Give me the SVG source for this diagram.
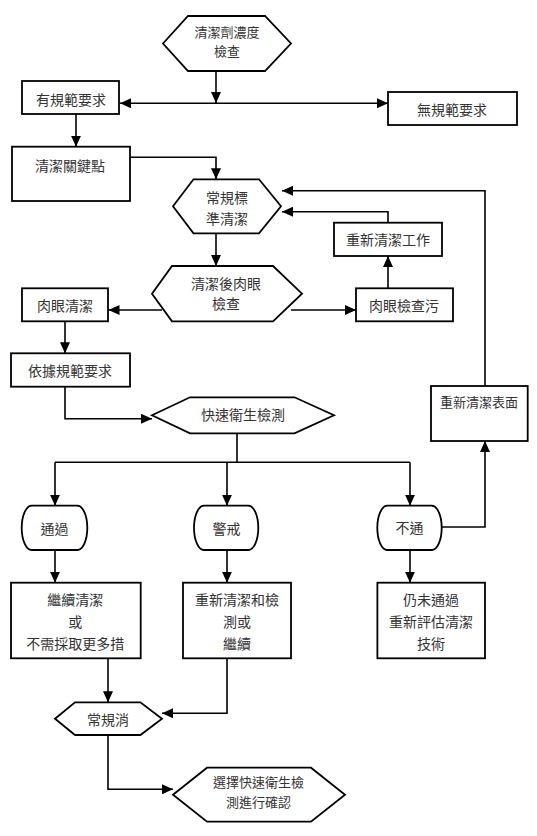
<svg xmlns="http://www.w3.org/2000/svg" width="537" height="836" viewBox="0 0 537 836">
<style>
.s{fill:#fff;stroke:#000;stroke-width:1.8}
.c{fill:none;stroke:#000;stroke-width:1.6}
text{font-family:"Noto Sans CJK TC","Noto Sans CJK SC",sans-serif;font-size:14px;fill:#333;text-anchor:middle;dominant-baseline:central}
.sm{font-size:13px}
</style>
<defs>
<marker id="a" markerUnits="userSpaceOnUse" markerWidth="11" markerHeight="10" refX="11" refY="5" orient="auto">
<path d="M0,0 L11,5 L0,10 z" fill="#000"/>
</marker>
</defs>
<rect width="537" height="836" fill="#fff"/>
<g id="connectors">
<path class="c" d="M216,71 V103" marker-end="url(#a)"/>
<path class="c" d="M216,103.3 H120" marker-end="url(#a)"/>
<path class="c" d="M216,103.3 H388" marker-end="url(#a)"/>
<path class="c" d="M76,114 V146.7" marker-end="url(#a)"/>
<path class="c" d="M130,157.3 H216 V179.3" marker-end="url(#a)"/>
<path class="c" d="M216,233.3 V266" marker-end="url(#a)"/>
<path class="c" d="M485,386 V190.7 H282" marker-end="url(#a)"/>
<path class="c" d="M388,222.7 V211.7 H282" marker-end="url(#a)"/>
<path class="c" d="M388,288.3 V256" marker-end="url(#a)"/>
<path class="c" d="M162,310 H108.5" marker-end="url(#a)"/>
<path class="c" d="M291,310 H356" marker-end="url(#a)"/>
<path class="c" d="M65,321.3 V353.3" marker-end="url(#a)"/>
<path class="c" d="M65,386.7 V418.7 H152" marker-end="url(#a)"/>
<path class="c" d="M237,433.3 V462.3 M55,462.3 H410"/>
<path class="c" d="M55,462.3 V505.7" marker-end="url(#a)"/>
<path class="c" d="M227,462.3 V505.7" marker-end="url(#a)"/>
<path class="c" d="M410,462.3 V505.7" marker-end="url(#a)"/>
<path class="c" d="M441.7,527 H485 V441" marker-end="url(#a)"/>
<path class="c" d="M55,550 V582.7" marker-end="url(#a)"/>
<path class="c" d="M227,550 V582.7" marker-end="url(#a)"/>
<path class="c" d="M410,550 V582.7" marker-end="url(#a)"/>
<path class="c" d="M108,658.3 V702.3" marker-end="url(#a)"/>
<path class="c" d="M227,658.3 V713.3 H162" marker-end="url(#a)"/>
<path class="c" d="M108,735 V789.3 H173" marker-end="url(#a)"/>
</g>
<g id="n1"><polygon class="s" points="163,43.5 188,16 265,16 291,43.5 265,71 188,71"/>
<text class="sm" x="227" y="31.7">清潔劑濃度</text><text class="sm" x="227" y="50">檢查</text></g>
<g id="n2"><rect class="s" x="22" y="81" width="97" height="33"/><text x="71" y="98.5">有規範要求</text></g>
<g id="n3"><rect class="s" x="388" y="92" width="129" height="33"/><text x="452" y="109">無規範要求</text></g>
<g id="n4"><rect class="s" x="12" y="146.7" width="118" height="54.3"/><text x="70" y="165">清潔關鍵點</text></g>
<g id="n5"><polygon class="s" points="173,206.3 193.5,179.3 259,179.3 281,206.3 259,233.3 193.5,233.3"/>
<text x="227" y="196.7">常規標</text><text x="227" y="218.3">準清潔</text></g>
<g id="n6"><rect class="s" x="334" y="222.7" width="108" height="33.3"/><text x="388" y="239.3">重新清潔工作</text></g>
<g id="n7"><polygon class="s" points="152,293.7 172,266 273,266 302,293.7 273,321.3 172,321.3"/>
<text x="226" y="283.3">清潔後肉眼</text><text x="226" y="303.3">檢查</text></g>
<g id="n8"><rect class="s" x="22" y="288.3" width="86" height="33"/><text x="65" y="305">肉眼清潔</text></g>
<g id="n9"><rect class="s" x="356" y="288.3" width="97" height="33"/><text x="404" y="305">肉眼檢查污</text></g>
<g id="n10"><rect class="s" x="431" y="386" width="96.7" height="55"/><text class="sm" x="479" y="401.7">重新清潔表面</text></g>
<g id="n11"><rect class="s" x="11" y="353.3" width="119" height="33.4"/><text x="70" y="370">依據規範要求</text></g>
<g id="n12"><polygon class="s" points="152,415.3 190,397.3 294.5,397.3 334,415.3 294.5,433.3 190,433.3"/>
<text x="243" y="414">快速衛生檢測</text></g>
<g id="n13"><rect class="s" x="21.7" y="505.7" width="65.6" height="44.3" rx="10" ry="22"/><text x="54.5" y="528">通過</text></g>
<g id="n14"><rect class="s" x="194" y="505.7" width="64.3" height="44.3" rx="10" ry="22"/><text x="226.5" y="528">警戒</text></g>
<g id="n15"><rect class="s" x="377.3" y="505.7" width="64.4" height="44.3" rx="10" ry="22"/><text x="409.5" y="527">不通</text></g>
<g id="n16"><rect class="s" x="11" y="582.7" width="129.7" height="75.6"/>
<text x="75.3" y="599.3">繼續清潔</text><text x="75.3" y="620.7">或</text><text x="75.3" y="643.3">不需採取更多措</text></g>
<g id="n17"><rect class="s" x="183" y="582.7" width="108" height="75.6"/>
<text x="237" y="599.3">重新清潔和檢</text><text x="237" y="620.7">測或</text><text x="237" y="643.3">繼續</text></g>
<g id="n18"><rect class="s" x="377.4" y="582.7" width="107.6" height="75.6"/>
<text x="431" y="599.3">仍未通過</text><text x="431" y="620.7">重新評估清潔</text><text x="431" y="643.3">技術</text></g>
<g id="n19"><polygon class="s" points="55,718.7 75,702.3 140.4,702.3 162,718.7 140.4,735 75,735"/>
<text x="108" y="719">常規消</text></g>
<g id="n20"><polygon class="s" points="173,794.7 207,767.7 311,767.7 345,794.7 311,821.7 207,821.7"/>
<text class="sm" x="258.5" y="781.7">選擇快速衛生檢</text><text class="sm" x="258.5" y="801">測進行確認</text></g>
</svg>
